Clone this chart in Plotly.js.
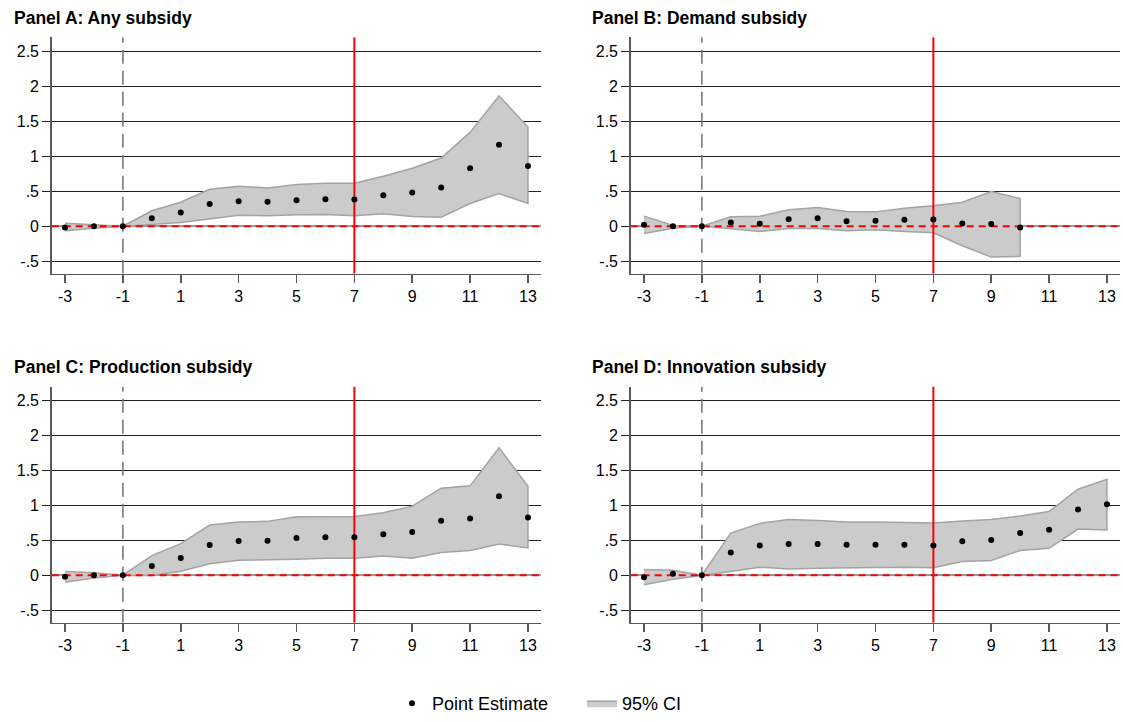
<!DOCTYPE html>
<html><head><meta charset="utf-8">
<script src="https://cdn.plot.ly/plotly-3.0.1.min.js"></script>
<style>html,body{margin:0;padding:0;background:#fff}</style>
</head><body><div id="chart" style="width:1123px;height:722px"></div>
<script>
// ---- data ----
const eventTime  = [-3,-2,-1,0,1,2,3,4,5,6,7,8,9,10,11,12,13];
const eventTimeB = [-3,-2,-1,0,1,2,3,4,5,6,7,8,9,10];

const estA = [-0.02,0.00,0.00,0.114,0.195,0.318,0.356,0.347,0.371,0.385,0.380,0.442,0.480,0.551,0.827,1.164,0.860];
const upA  = [0.04,0.02,0.00,0.219,0.342,0.528,0.570,0.547,0.594,0.613,0.613,0.713,0.827,0.974,1.340,1.863,1.416];
const loA  = [-0.067,-0.03,0.00,0.024,0.052,0.109,0.157,0.147,0.162,0.166,0.147,0.176,0.138,0.128,0.323,0.466,0.323];

const estB = [0.02,0.00,0.00,0.052,0.033,0.100,0.114,0.071,0.076,0.090,0.095,0.038,0.029,-0.020];
const upB  = [0.143,0.01,0.00,0.133,0.143,0.233,0.266,0.209,0.204,0.257,0.290,0.342,0.494,0.394];
const loB  = [-0.105,-0.03,0.00,-0.038,-0.076,-0.033,-0.033,-0.067,-0.052,-0.076,-0.095,-0.280,-0.442,-0.432];

const estC = [-0.024,0.00,0.00,0.133,0.247,0.432,0.489,0.494,0.532,0.542,0.542,0.584,0.618,0.779,0.812,1.131,0.827];
const upC  = [0.052,0.033,0.00,0.280,0.451,0.717,0.760,0.770,0.836,0.840,0.840,0.893,0.988,1.245,1.278,1.824,1.273];
const loC  = [-0.10,-0.04,0.00,-0.005,0.057,0.162,0.214,0.223,0.228,0.242,0.242,0.276,0.242,0.323,0.352,0.447,0.390];

const estD = [-0.029,0.019,0.00,0.323,0.423,0.447,0.447,0.437,0.437,0.437,0.423,0.485,0.504,0.603,0.651,0.941,1.014];
const upD  = [0.081,0.071,0.00,0.603,0.741,0.798,0.784,0.760,0.760,0.755,0.746,0.774,0.798,0.846,0.912,1.230,1.373];
const loD  = [-0.138,-0.057,0.00,0.052,0.114,0.090,0.100,0.109,0.109,0.114,0.105,0.195,0.209,0.352,0.385,0.660,0.646];

const panelTitles = ["Panel A: Any subsidy","Panel B: Demand subsidy","Panel C: Production subsidy","Panel D: Innovation subsidy"];
const xTickVals = [-3,-1,1,3,5,7,9,11,13];
const yTickVals = [-0.5,0,0.5,1,1.5,2,2.5];
const yTickText = ["-.5","0",".5","1","1.5","2","2.5"];
const baseYear = -1;
const cutoffYear = 7;
const legendNames = ["Point Estimate","95% CI"];

// ---- layout constants ----
const W = 1123, H = 722;
const xRange = [-3.46, 13.44];
const yRange = [-0.68, 2.70];
const FONT = "Liberation Sans, Arial, Helvetica, sans-serif";

const panels = [
  {t: eventTime,  est: estA, up: upA, lo: loA},
  {t: eventTimeB, est: estB, up: upB, lo: loB},
  {t: eventTime,  est: estC, up: upC, lo: loC},
  {t: eventTime,  est: estD, up: upD, lo: loD}
];
const xDomains = [[51.7/W, 540.7/W],[630.7/W, 1119.7/W]];
const yDomains = [[1-273.7/H, 1-37.3/H],[1-622.7/H, 1-386.5/H]];
const titlePos = [[12, 18],[590, 18],[12, 367],[590, 367]];

const traces = [];
const layout = {
  width: W, height: H,
  margin: {l:0, r:0, t:0, b:0},
  paper_bgcolor: "#fff", plot_bgcolor: "#fff",
  font: {family: FONT, color: "#000"},
  showlegend: true,
  legend: {orientation: "h", x: 392/W, xanchor: "left", y: 0, yanchor: "bottom",
           font: {size: 18, family: FONT, color: "#000"}, itemwidth: 30, traceorder: "normal",
           entrywidth: 145, entrywidthmode: "pixels"},
  annotations: [],
  hovermode: false
};

panels.forEach((p, i) => {
  const sfx = i === 0 ? "" : String(i+1);
  const xa = "x" + sfx, ya = "y" + sfx;
  const col = i % 2, row = Math.floor(i/2);

  // CI band
  traces.push({
    x: p.t.concat(p.t.slice().reverse()),
    y: p.up.concat(p.lo.slice().reverse()),
    xaxis: xa, yaxis: ya, type: "scatter", mode: "lines",
    fill: "toself", fillcolor: "#cbcbcb",
    line: {color: "#a3a3a3", width: 1.5},
    name: legendNames[1], legendrank: 2, showlegend: i === 0
  });
  // base-year dashed line
  traces.push({
    x: [baseYear, baseYear], y: yRange, xaxis: xa, yaxis: ya, type: "scatter", mode: "lines",
    line: {color: "#707070", width: 1.5, dash: "14px,7px"}, showlegend: false
  });
  // zero reference (red dashed)
  traces.push({
    x: xRange, y: [0, 0], xaxis: xa, yaxis: ya, type: "scatter", mode: "lines",
    line: {color: "#ff0000", width: 2, dash: "7px,5px"}, showlegend: false
  });
  // cutoff red line
  traces.push({
    x: [cutoffYear, cutoffYear], y: yRange, xaxis: xa, yaxis: ya, type: "scatter", mode: "lines",
    line: {color: "#ff0000", width: 2}, showlegend: false
  });
  // point estimates
  traces.push({
    x: p.t, y: p.est, xaxis: xa, yaxis: ya, type: "scatter", mode: "markers",
    marker: {color: "#000", size: 6},
    name: legendNames[0], legendrank: 1, showlegend: i === 0
  });

  layout["xaxis" + sfx] = {
    domain: xDomains[col], range: xRange, anchor: ya,
    tickmode: "array", tickvals: xTickVals, ticktext: xTickVals.map(String),
    showgrid: false, zeroline: false, showline: true, linecolor: "#595959", linewidth: 1.5,
    ticks: "outside", ticklen: 8, tickwidth: 1.5, tickcolor: "#595959",
    tickfont: {size: 16, family: FONT, color: "#000"}, automargin: false, fixedrange: true
  };
  layout["yaxis" + sfx] = {
    domain: yDomains[row], range: yRange, anchor: xa,
    tickmode: "array", tickvals: yTickVals, ticktext: yTickText,
    showgrid: true, gridcolor: "#222", gridwidth: 1,
    zeroline: true, zerolinecolor: "#9a9a9a", zerolinewidth: 2,
    showline: true, linecolor: "#595959", linewidth: 1.5,
    ticks: "outside", ticklen: 8, tickwidth: 1.2, tickcolor: "#222",
    tickfont: {size: 16, family: FONT, color: "#000"}, automargin: false, fixedrange: true
  };
  layout.annotations.push({
    xref: "paper", yref: "paper", x: titlePos[i][0]/W, y: 1 - titlePos[i][1]/H,
    xanchor: "left", yanchor: "middle", showarrow: false, text: "<b>" + panelTitles[i] + "</b>",
    font: {size: 17.5, family: FONT, color: "#000"}
  });
});

Plotly.newPlot("chart", traces, layout, {staticPlot: true, displayModeBar: false});
</script></body></html>
